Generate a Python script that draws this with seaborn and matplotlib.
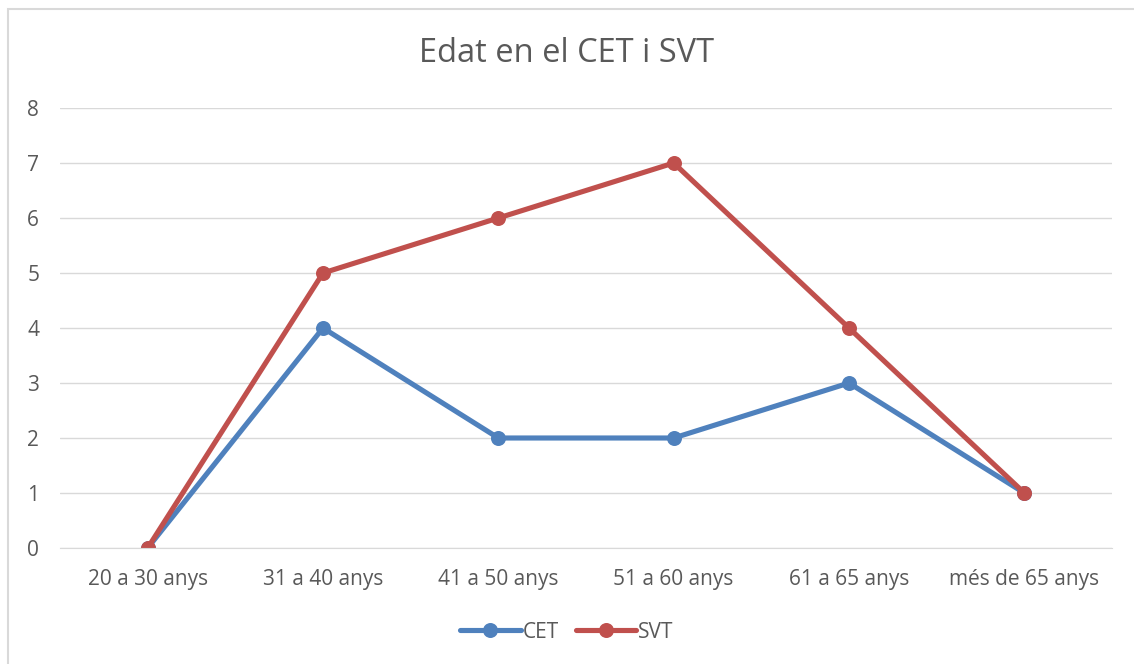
import matplotlib
matplotlib.use("Agg")
import matplotlib.pyplot as plt
import seaborn as sns
import pandas as pd
from matplotlib.patches import Rectangle
from matplotlib.lines import Line2D

categories = ["20 a 30 anys", "31 a 40 anys", "41 a 50 anys", "51 a 60 anys", "61 a 65 anys", "més de 65 anys"]
cet = [0, 4, 2, 2, 3, 1]
svt = [0, 5, 6, 7, 4, 1]
series_names = ["CET", "SVT"]
colors = ["#4F81BD", "#C0504D"]

df = pd.DataFrame({
    "cat": list(range(len(categories))) * 2,
    "val": cet + svt,
    "serie": [series_names[0]] * len(cet) + [series_names[1]] * len(svt),
})

sns.set_style("white")
plt.rcParams["font.family"] = ["Open Sans", "DejaVu Sans"]

fig = plt.figure(figsize=(11.34, 6.64), dpi=100)
ax = fig.add_axes([60/1134, 1-548/664, (1112-60)/1134, (548-108)/664])

sns.lineplot(data=df, x="cat", y="val", hue="serie", palette=colors,
             marker="o", markersize=10.8, linewidth=3.7, markeredgewidth=0,
             ax=ax, legend=False)

ax.set_xlim(-0.5, len(categories) - 0.5)
ax.set_ylim(0, 8)
ax.set_yticks(range(0, 9))
ax.set_xticks(range(len(categories)))
ax.set_xticklabels(categories)
ax.set_xlabel("")
ax.set_ylabel("")
ax.grid(axis="y", color="#D9D9D9", linewidth=1)
ax.set_axisbelow(True)
for s in ["top", "right", "left"]:
    ax.spines[s].set_visible(False)
ax.spines["bottom"].set_color("#D9D9D9")
ax.tick_params(axis="both", length=0, labelsize=15, colors="#595959")
ax.tick_params(axis="y", pad=15)
ax.tick_params(axis="x", pad=15)

fig.text(0.5, 1-54/664, "Edat en el CET i SVT", ha="center", va="center",
         fontsize=23.5, color="#595959")

handles = [Line2D([0], [0], color=c, lw=3.7, marker="o", markersize=10.8, markeredgewidth=0) for c in colors]
fig.legend(handles, series_names, loc="center", bbox_to_anchor=(0.5, 1-632/664),
           ncol=2, frameon=False, fontsize=15, labelcolor="#595959",
           handlelength=2.9, handletextpad=0.1, columnspacing=0.8)

fig.patches.append(Rectangle((8/1134, -9/664), 2, 1, transform=fig.transFigure,
                             fill=False, edgecolor="#D9D9D9", linewidth=1.5))

fig.savefig("out.png", dpi=100, facecolor="white")
